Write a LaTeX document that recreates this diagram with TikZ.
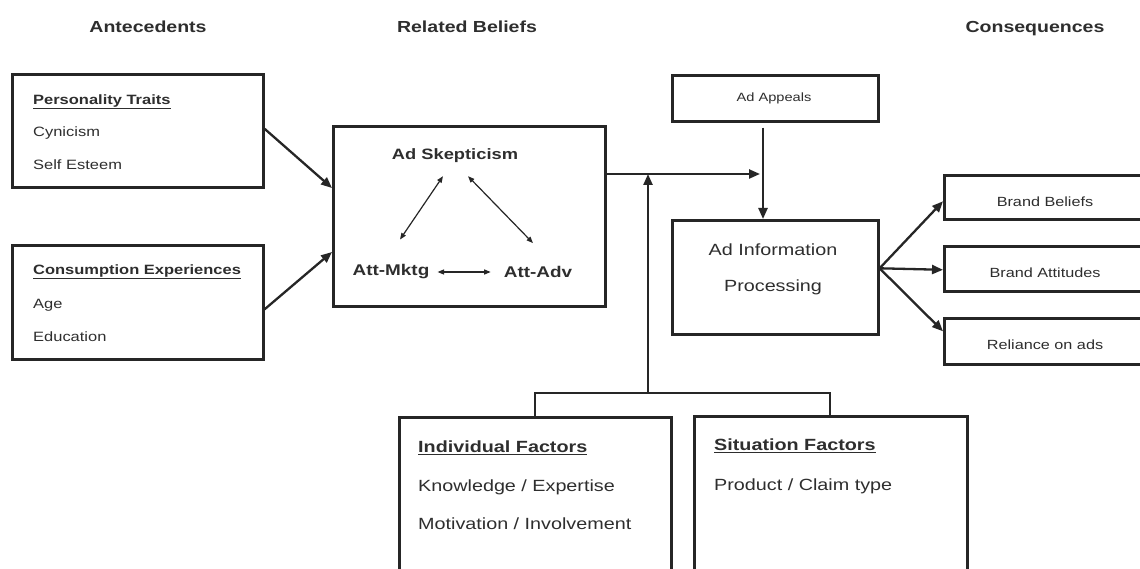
\documentclass[tikz,border=0pt]{standalone}
\usepackage{fontspec}
\setmainfont{Liberation Sans}[FakeStretch=1.22]
\usetikzlibrary{arrows.meta,calc}
\begin{document}
\begin{tikzpicture}[x=1pt,y=-1pt,
  box/.style={draw=black!85,line width=2.6pt,anchor=north west,inner sep=0pt},
  txt/.style={inner sep=0pt,text=black!82},
  lft/.style={txt,anchor=west},
  head/.style={txt,anchor=base,font=\fontsize{16}{18}\selectfont\bfseries},
  body/.style={font=\fontsize{13.5}{16}\selectfont},
  big/.style={font=\fontsize{16.2}{19}\selectfont},
  arr/.style={draw=black!85,line width=2.3pt,-{Triangle[length=11pt,width=9pt]}},
  plain/.style={draw=black!85,line width=2.3pt},
  dbl/.style={draw=black!85,line width=1.2pt,
    {Triangle[length=6.5pt,width=5pt]}-{Triangle[length=6.5pt,width=5pt]}}]
\useasboundingbox (0,0) rectangle (1140,569);
\fill[white] (0,0) rectangle (1140,569);
\clip (0,0) rectangle (1140,569);

% column headings
\node[head] (hA) at (148,33) {Antecedents};
\node[head] (hR) at (467,33) {Related Beliefs};
\node[head] (hC) at (1035,33) {Consequences};

% antecedent boxes
\node[box,minimum width=251pt,minimum height=113pt] (pers) at (11,73) {};
\node[lft,body] (persT) at (33,102) {\textbf{\underline{Personality Traits}}};
\node[lft,body] (cyn) at (33,133) {Cynicism};
\node[lft,body] (se) at (33,165) {Self Esteem};

\node[box,minimum width=251pt,minimum height=114pt] (cons) at (11,244) {};
\node[lft,body] (consT) at (33,272) {\textbf{\underline{Consumption Experiences}}};
\node[lft,body] (age) at (33,305) {Age};
\node[lft,body] (edu) at (33,337) {Education};

% related beliefs
\node[box,minimum width=272pt,minimum height=180pt] (belief) at (332,125) {};
\node[txt,font=\fontsize{15}{18}\selectfont\bfseries] (skep) at (455,156) {Ad Skepticism};
\node[txt,font=\fontsize{15.5}{18}\selectfont\bfseries] (mktg) at (391,272) {Att-Mktg};
\node[txt,font=\fontsize{15.5}{18}\selectfont\bfseries] (adv) at (538,272) {Att-Adv};

% ad appeals and processing
\node[box,minimum width=206pt,minimum height=46pt] (appeal) at (671,74) {};
\node[txt,font=\fontsize{12}{14}\selectfont] (appealT) at (774,98) {Ad Appeals};
\node[box,minimum width=206pt,minimum height=114pt] (proc) at (671,219) {};
\node[txt,big] (procA) at (773,250) {Ad Information};
\node[txt,big] (procB) at (773,287) {Processing};

% consequences
\node[box,minimum width=230pt,minimum height=44pt] (bb) at (943,174) {};
\node[box,minimum width=230pt,minimum height=45pt] (ba) at (943,245) {};
\node[box,minimum width=230pt,minimum height=46pt] (rel) at (943,317) {};
\node[txt,font=\fontsize{13.3}{15}\selectfont] (bbT) at (1045,202) {Brand Beliefs};
\node[txt,font=\fontsize{13.3}{15}\selectfont] (baT) at (1045,273) {Brand Attitudes};
\node[txt,font=\fontsize{13.3}{15}\selectfont] (relT) at (1045,345) {Reliance on ads};

% moderating factors
\node[box,minimum width=272pt,minimum height=200pt] (indiv) at (398,416) {};
\node[lft,big] (indT) at (418,448) {\textbf{\underline{Individual Factors}}};
\node[lft,big] (know) at (418,487) {Knowledge / Expertise};
\node[lft,big] (moti) at (418,524) {Motivation / Involvement};
\node[box,minimum width=273pt,minimum height=200pt] (situ) at (693,415) {};
\node[lft,big] (sitT) at (714,446) {\textbf{\underline{Situation Factors}}};
\node[lft,big] (prod) at (714,486) {Product / Claim type};

% junction points
\coordinate (inA) at (332,188);
\coordinate (inB) at (332,252);
\coordinate (meet) at (760,174);
\coordinate (join) at (648,174);
\coordinate (brL) at (535,393);
\coordinate (brR) at (830,393);
\coordinate (brM) at (648,393);

% antecedents into beliefs
\draw[arr] ($(pers.east)+(0,-2)$) -- (inA);
\draw[arr] ($(cons.east)+(0,7)$) -- (inB);

% links among beliefs
\draw[dbl] ($(skep.south)+(-12,13)$) -- ($(mktg.north)+(9,-25)$);
\draw[dbl] ($(skep.south)+(13,13)$) -- ($(adv.north)+(-5,-23)$);
\draw[dbl] ($(mktg.east)+(8,0)$) -- ($(adv.west)+(-13,0)$);

% beliefs and appeals into processing
\draw[arr] (belief.east |- meet) -- (meet);
\draw[arr] ($(appeal.south -| 763,0)+(0,5)$) -- (proc.north -| 763,0);

% moderators
\draw[plain] (indiv.north -| brL) -- (brL) -- (brR) -- (situ.north -| brR);
\draw[arr] (brM) -- (join);

% processing outcomes
\draw[arr] ($(proc.east)+(0,-9)$) -- ($(bb.west)+(0,4)$);
\draw[arr] ($(proc.east)+(0,-9)$) -- ($(ba.west)+(0,1)$);
\draw[arr] ($(proc.east)+(0,-9)$) -- ($(rel.west)+(0,-10)$);
\end{tikzpicture}
\end{document}
